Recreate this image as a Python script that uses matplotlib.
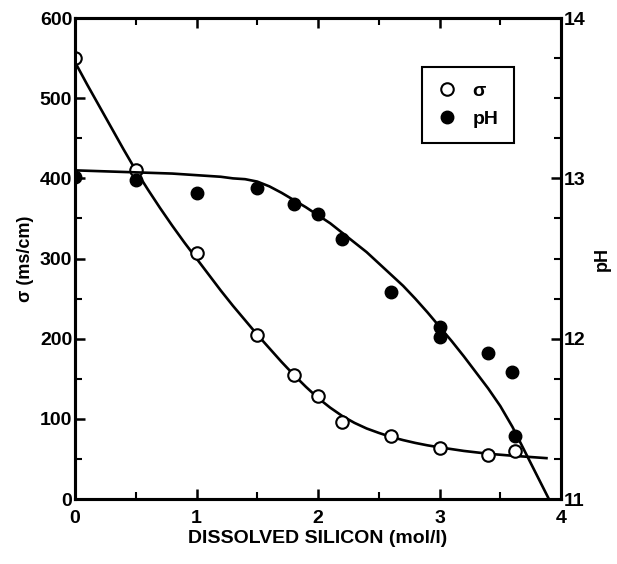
import numpy as np
import matplotlib.pyplot as plt
from matplotlib.lines import Line2D
from matplotlib.ticker import MultipleLocator

# measured points
sig_x = [0.0, 0.5, 1.0, 1.5, 1.8, 2.0, 2.2, 2.6, 3.0, 3.4, 3.62]
sig_y = [550, 410, 307, 204, 155, 128, 96, 79, 64, 55, 60]

ph_x = [0.0, 0.5, 1.0, 1.5, 1.8, 2.0, 2.2, 2.6, 3.0, 3.0, 3.4, 3.6, 3.62]
ph_y = [13.01, 12.99, 12.91, 12.94, 12.84, 12.78, 12.62, 12.29, 12.07, 12.01, 11.91, 11.79, 11.39]

# fitted curves
sig_cx = [0.0, 0.1, 0.2, 0.3, 0.4, 0.5, 0.6, 0.7, 0.8, 0.9, 1.0, 1.1, 1.2, 1.3, 1.4,
          1.5, 1.6, 1.7, 1.8, 1.9, 2.0, 2.1, 2.2, 2.3, 2.4, 2.5, 2.6, 2.7, 2.8, 2.9,
          3.0, 3.2, 3.4, 3.6, 3.88]
sig_cy = [545, 517, 490, 463, 436, 410, 386, 363, 341, 320, 300, 280, 260, 241, 223,
          205, 188, 171, 155, 140, 126, 114, 103.5, 95, 88, 82.5, 77.5, 73.5, 70, 67,
          64.5, 60, 56.5, 54, 51]

ph_cx = [0.0, 0.2, 0.4, 0.6, 0.8, 1.0, 1.1, 1.2, 1.3, 1.4, 1.5, 1.6, 1.7, 1.8, 1.9,
         2.0, 2.1, 2.2, 2.3, 2.4, 2.5, 2.6, 2.7, 2.8, 2.9, 3.0, 3.1, 3.2, 3.3, 3.4,
         3.5, 3.6, 3.7, 3.8, 3.9]
ph_cy = [13.05, 13.045, 13.04, 13.035, 13.03, 13.02, 13.015, 13.01, 13.0, 12.995, 12.98,
         12.95, 12.91, 12.865, 12.82, 12.77, 12.72, 12.66, 12.6, 12.54, 12.47, 12.4,
         12.33, 12.25, 12.165, 12.075, 11.985, 11.89, 11.79, 11.69, 11.58, 11.45, 11.3,
         11.15, 11.0]

plt.rcParams['font.family'] = ['Liberation Sans', 'DejaVu Sans']
plt.rcParams['font.weight'] = 'bold'

fig = plt.figure(figsize=(6.17, 5.64), dpi=100)
ax = fig.add_axes([0.1216, 0.1152, 0.7877, 0.8528])
ax2 = ax.twinx()

lw = 1.9
ax.plot(sig_cx, sig_cy, color='black', lw=lw, zorder=2)
ax.plot(sig_x, sig_y, 'o', mfc='white', mec='black', mew=1.5, ms=9, zorder=3)
ax2.plot(ph_cx, ph_cy, color='black', lw=lw, zorder=2)
ax2.plot(ph_x, ph_y, 'o', mfc='black', mec='black', ms=9, zorder=3)

ax.set_xlim(0, 4)
ax.set_ylim(0, 600)
ax2.set_ylim(11, 14)

ax.xaxis.set_major_locator(MultipleLocator(1))
ax.xaxis.set_minor_locator(MultipleLocator(0.5))
ax.yaxis.set_major_locator(MultipleLocator(100))
ax.yaxis.set_minor_locator(MultipleLocator(50))
ax2.yaxis.set_major_locator(MultipleLocator(1))
ax2.yaxis.set_minor_locator(MultipleLocator(0.25))

ax.tick_params(axis='x', which='both', direction='in', top=True, labelsize=14, pad=8)
ax.tick_params(axis='y', which='both', direction='in', labelsize=14, pad=2)
ax2.tick_params(axis='y', which='both', direction='in', labelsize=14, pad=2)
for a in (ax, ax2):
    a.tick_params(which='major', length=7, width=1.8)
    a.tick_params(which='minor', length=5, width=1.5)
    for s in a.spines.values():
        s.set_linewidth(2.2)

ax.set_xlabel('DISSOLVED SILICON (mol/l)', fontsize=14, fontweight='bold', labelpad=2)
ax.set_ylabel('σ (ms/cm)', fontsize=13, fontweight='bold', labelpad=4)
ax2.set_ylabel('pH', fontsize=13, fontweight='bold', labelpad=6)

handles = [
    Line2D([], [], ls='none', marker='o', mfc='white', mec='black', mew=1.5, ms=9),
    Line2D([], [], ls='none', marker='o', mfc='black', mec='black', ms=9),
]
leg = ax.legend(handles, ['σ', 'pH'], loc='upper left', bbox_to_anchor=(0.714, 0.898),
                borderaxespad=0, fontsize=14, frameon=True, fancybox=False,
                handlelength=1.0, handletextpad=0.8, borderpad=0.8, labelspacing=0.5)
leg.get_frame().set_edgecolor('black')
leg.get_frame().set_linewidth(1.5)
leg.get_frame().set_alpha(1)

fig.savefig('out.png', dpi=100)
